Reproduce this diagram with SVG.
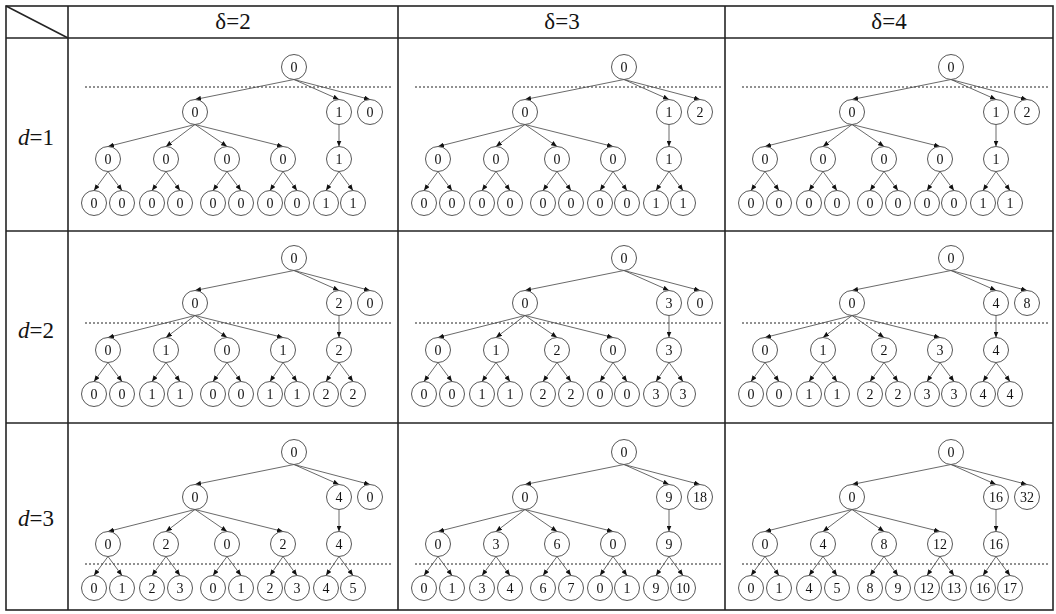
<svg xmlns="http://www.w3.org/2000/svg" width="1056" height="614" viewBox="0 0 1056 614">
<style>
.grid{stroke:#222;stroke-width:1.6;fill:none}
.nd circle{fill:#fff;stroke:#555;stroke-width:1}
.nd text{font-family:"Liberation Serif","Times New Roman",serif;font-size:14px;text-anchor:middle;fill:#111}
.ed line{stroke:#444;stroke-width:0.8;marker-end:url(#ah)}
.dash{stroke:#222;stroke-width:1;stroke-dasharray:2 2}
.hd{font-family:"Liberation Serif","Times New Roman",serif;font-size:23px;text-anchor:middle;fill:#111}
</style>
<defs>
<marker id="ah" markerWidth="6" markerHeight="5" refX="6" refY="2.5" orient="auto" markerUnits="userSpaceOnUse"><path d="M0,0L6,2.5L0,5z" fill="#111"/></marker>
</defs>
<rect width="1056" height="614" fill="#fff"/>
<g id="table" opacity="0.99">
<rect class="grid" x="6" y="6" width="1047" height="604" stroke-width="2"/>
<line class="grid" x1="68" y1="6" x2="68" y2="610"/>
<line class="grid" x1="398" y1="6" x2="398" y2="610"/>
<line class="grid" x1="725" y1="6" x2="725" y2="610"/>
<line class="grid" x1="6" y1="38" x2="1053" y2="38"/>
<line class="grid" x1="6" y1="231" x2="1053" y2="231"/>
<line class="grid" x1="6" y1="423" x2="1053" y2="423"/>
<line class="grid" x1="6" y1="6" x2="68" y2="38" stroke-width="1.3"/>
<text class="hd" x="233" y="29">δ=2</text>
<text class="hd" x="562" y="29">δ=3</text>
<text class="hd" x="889" y="29">δ=4</text>
<text class="hd" x="36" y="145"><tspan font-style="italic">d</tspan>=1</text>
<text class="hd" x="36" y="338"><tspan font-style="italic">d</tspan>=2</text>
<text class="hd" x="36" y="526"><tspan font-style="italic">d</tspan>=3</text>
</g>
<g id="dividers">
<line class="dash" x1="85" y1="87" x2="392" y2="87"/>
<line class="dash" x1="415" y1="87" x2="722" y2="87"/>
<line class="dash" x1="742" y1="87" x2="1049" y2="87"/>
<line class="dash" x1="85" y1="323" x2="392" y2="323"/>
<line class="dash" x1="415" y1="323" x2="722" y2="323"/>
<line class="dash" x1="742" y1="323" x2="1049" y2="323"/>
<line class="dash" x1="85" y1="564" x2="392" y2="564"/>
<line class="dash" x1="415" y1="564" x2="722" y2="564"/>
<line class="dash" x1="742" y1="564" x2="1049" y2="564"/>
</g>
<g id="connectors" class="ed">
<g transform="translate(68,67)">
<line x1="226" y1="12.5" x2="127" y2="32.5"/><line x1="226" y1="12.5" x2="271" y2="32.5"/><line x1="226" y1="12.5" x2="302" y2="32.5"/>
<line x1="127" y1="57.5" x2="40" y2="79.5"/><line x1="127" y1="57.5" x2="98" y2="79.5"/><line x1="127" y1="57.5" x2="159" y2="79.5"/><line x1="127" y1="57.5" x2="215" y2="79.5"/><line x1="271" y1="57.5" x2="271" y2="79.5"/>
<line x1="40" y1="104.5" x2="26" y2="123.5"/><line x1="40" y1="104.5" x2="54" y2="123.5"/><line x1="98" y1="104.5" x2="84" y2="123.5"/><line x1="98" y1="104.5" x2="112" y2="123.5"/><line x1="159" y1="104.5" x2="145" y2="123.5"/><line x1="159" y1="104.5" x2="173" y2="123.5"/><line x1="215" y1="104.5" x2="202" y2="123.5"/><line x1="215" y1="104.5" x2="229" y2="123.5"/><line x1="271" y1="104.5" x2="258" y2="123.5"/><line x1="271" y1="104.5" x2="285" y2="123.5"/>
</g>
<g transform="translate(398,67)">
<line x1="226" y1="12.5" x2="127" y2="32.5"/><line x1="226" y1="12.5" x2="271" y2="32.5"/><line x1="226" y1="12.5" x2="302" y2="32.5"/>
<line x1="127" y1="57.5" x2="40" y2="79.5"/><line x1="127" y1="57.5" x2="98" y2="79.5"/><line x1="127" y1="57.5" x2="159" y2="79.5"/><line x1="127" y1="57.5" x2="215" y2="79.5"/><line x1="271" y1="57.5" x2="271" y2="79.5"/>
<line x1="40" y1="104.5" x2="26" y2="123.5"/><line x1="40" y1="104.5" x2="54" y2="123.5"/><line x1="98" y1="104.5" x2="84" y2="123.5"/><line x1="98" y1="104.5" x2="112" y2="123.5"/><line x1="159" y1="104.5" x2="145" y2="123.5"/><line x1="159" y1="104.5" x2="173" y2="123.5"/><line x1="215" y1="104.5" x2="202" y2="123.5"/><line x1="215" y1="104.5" x2="229" y2="123.5"/><line x1="271" y1="104.5" x2="258" y2="123.5"/><line x1="271" y1="104.5" x2="285" y2="123.5"/>
</g>
<g transform="translate(725,67)">
<line x1="226" y1="12.5" x2="127" y2="32.5"/><line x1="226" y1="12.5" x2="271" y2="32.5"/><line x1="226" y1="12.5" x2="302" y2="32.5"/>
<line x1="127" y1="57.5" x2="40" y2="79.5"/><line x1="127" y1="57.5" x2="98" y2="79.5"/><line x1="127" y1="57.5" x2="159" y2="79.5"/><line x1="127" y1="57.5" x2="215" y2="79.5"/><line x1="271" y1="57.5" x2="271" y2="79.5"/>
<line x1="40" y1="104.5" x2="26" y2="123.5"/><line x1="40" y1="104.5" x2="54" y2="123.5"/><line x1="98" y1="104.5" x2="84" y2="123.5"/><line x1="98" y1="104.5" x2="112" y2="123.5"/><line x1="159" y1="104.5" x2="145" y2="123.5"/><line x1="159" y1="104.5" x2="173" y2="123.5"/><line x1="215" y1="104.5" x2="202" y2="123.5"/><line x1="215" y1="104.5" x2="229" y2="123.5"/><line x1="271" y1="104.5" x2="258" y2="123.5"/><line x1="271" y1="104.5" x2="285" y2="123.5"/>
</g>
<g transform="translate(68,258)">
<line x1="226" y1="12.5" x2="127" y2="32.5"/><line x1="226" y1="12.5" x2="271" y2="32.5"/><line x1="226" y1="12.5" x2="302" y2="32.5"/>
<line x1="127" y1="57.5" x2="40" y2="79.5"/><line x1="127" y1="57.5" x2="98" y2="79.5"/><line x1="127" y1="57.5" x2="159" y2="79.5"/><line x1="127" y1="57.5" x2="215" y2="79.5"/><line x1="271" y1="57.5" x2="271" y2="79.5"/>
<line x1="40" y1="104.5" x2="26" y2="123.5"/><line x1="40" y1="104.5" x2="54" y2="123.5"/><line x1="98" y1="104.5" x2="84" y2="123.5"/><line x1="98" y1="104.5" x2="112" y2="123.5"/><line x1="159" y1="104.5" x2="145" y2="123.5"/><line x1="159" y1="104.5" x2="173" y2="123.5"/><line x1="215" y1="104.5" x2="202" y2="123.5"/><line x1="215" y1="104.5" x2="229" y2="123.5"/><line x1="271" y1="104.5" x2="258" y2="123.5"/><line x1="271" y1="104.5" x2="285" y2="123.5"/>
</g>
<g transform="translate(398,258)">
<line x1="226" y1="12.5" x2="127" y2="32.5"/><line x1="226" y1="12.5" x2="271" y2="32.5"/><line x1="226" y1="12.5" x2="302" y2="32.5"/>
<line x1="127" y1="57.5" x2="40" y2="79.5"/><line x1="127" y1="57.5" x2="98" y2="79.5"/><line x1="127" y1="57.5" x2="159" y2="79.5"/><line x1="127" y1="57.5" x2="215" y2="79.5"/><line x1="271" y1="57.5" x2="271" y2="79.5"/>
<line x1="40" y1="104.5" x2="26" y2="123.5"/><line x1="40" y1="104.5" x2="54" y2="123.5"/><line x1="98" y1="104.5" x2="84" y2="123.5"/><line x1="98" y1="104.5" x2="112" y2="123.5"/><line x1="159" y1="104.5" x2="145" y2="123.5"/><line x1="159" y1="104.5" x2="173" y2="123.5"/><line x1="215" y1="104.5" x2="202" y2="123.5"/><line x1="215" y1="104.5" x2="229" y2="123.5"/><line x1="271" y1="104.5" x2="258" y2="123.5"/><line x1="271" y1="104.5" x2="285" y2="123.5"/>
</g>
<g transform="translate(725,258)">
<line x1="226" y1="12.5" x2="127" y2="32.5"/><line x1="226" y1="12.5" x2="271" y2="32.5"/><line x1="226" y1="12.5" x2="302" y2="32.5"/>
<line x1="127" y1="57.5" x2="40" y2="79.5"/><line x1="127" y1="57.5" x2="98" y2="79.5"/><line x1="127" y1="57.5" x2="159" y2="79.5"/><line x1="127" y1="57.5" x2="215" y2="79.5"/><line x1="271" y1="57.5" x2="271" y2="79.5"/>
<line x1="40" y1="104.5" x2="26" y2="123.5"/><line x1="40" y1="104.5" x2="54" y2="123.5"/><line x1="98" y1="104.5" x2="84" y2="123.5"/><line x1="98" y1="104.5" x2="112" y2="123.5"/><line x1="159" y1="104.5" x2="145" y2="123.5"/><line x1="159" y1="104.5" x2="173" y2="123.5"/><line x1="215" y1="104.5" x2="202" y2="123.5"/><line x1="215" y1="104.5" x2="229" y2="123.5"/><line x1="271" y1="104.5" x2="258" y2="123.5"/><line x1="271" y1="104.5" x2="285" y2="123.5"/>
</g>
<g transform="translate(68,452)">
<line x1="226" y1="12.5" x2="127" y2="32.5"/><line x1="226" y1="12.5" x2="271" y2="32.5"/><line x1="226" y1="12.5" x2="302" y2="32.5"/>
<line x1="127" y1="57.5" x2="40" y2="79.5"/><line x1="127" y1="57.5" x2="98" y2="79.5"/><line x1="127" y1="57.5" x2="159" y2="79.5"/><line x1="127" y1="57.5" x2="215" y2="79.5"/><line x1="271" y1="57.5" x2="271" y2="79.5"/>
<line x1="40" y1="104.5" x2="26" y2="123.5"/><line x1="40" y1="104.5" x2="54" y2="123.5"/><line x1="98" y1="104.5" x2="84" y2="123.5"/><line x1="98" y1="104.5" x2="112" y2="123.5"/><line x1="159" y1="104.5" x2="145" y2="123.5"/><line x1="159" y1="104.5" x2="173" y2="123.5"/><line x1="215" y1="104.5" x2="202" y2="123.5"/><line x1="215" y1="104.5" x2="229" y2="123.5"/><line x1="271" y1="104.5" x2="258" y2="123.5"/><line x1="271" y1="104.5" x2="285" y2="123.5"/>
</g>
<g transform="translate(398,452)">
<line x1="226" y1="12.5" x2="127" y2="32.5"/><line x1="226" y1="12.5" x2="271" y2="32.5"/><line x1="226" y1="12.5" x2="302" y2="32.5"/>
<line x1="127" y1="57.5" x2="40" y2="79.5"/><line x1="127" y1="57.5" x2="98" y2="79.5"/><line x1="127" y1="57.5" x2="159" y2="79.5"/><line x1="127" y1="57.5" x2="215" y2="79.5"/><line x1="271" y1="57.5" x2="271" y2="79.5"/>
<line x1="40" y1="104.5" x2="26" y2="123.5"/><line x1="40" y1="104.5" x2="54" y2="123.5"/><line x1="98" y1="104.5" x2="84" y2="123.5"/><line x1="98" y1="104.5" x2="112" y2="123.5"/><line x1="159" y1="104.5" x2="145" y2="123.5"/><line x1="159" y1="104.5" x2="173" y2="123.5"/><line x1="215" y1="104.5" x2="202" y2="123.5"/><line x1="215" y1="104.5" x2="229" y2="123.5"/><line x1="271" y1="104.5" x2="258" y2="123.5"/><line x1="271" y1="104.5" x2="285" y2="123.5"/>
</g>
<g transform="translate(725,452)">
<line x1="226" y1="12.5" x2="127" y2="32.5"/><line x1="226" y1="12.5" x2="271" y2="32.5"/><line x1="226" y1="12.5" x2="302" y2="32.5"/>
<line x1="127" y1="57.5" x2="40" y2="79.5"/><line x1="127" y1="57.5" x2="98" y2="79.5"/><line x1="127" y1="57.5" x2="159" y2="79.5"/><line x1="127" y1="57.5" x2="215" y2="79.5"/><line x1="271" y1="57.5" x2="271" y2="79.5"/>
<line x1="40" y1="104.5" x2="26" y2="123.5"/><line x1="40" y1="104.5" x2="54" y2="123.5"/><line x1="98" y1="104.5" x2="84" y2="123.5"/><line x1="98" y1="104.5" x2="112" y2="123.5"/><line x1="159" y1="104.5" x2="145" y2="123.5"/><line x1="159" y1="104.5" x2="173" y2="123.5"/><line x1="215" y1="104.5" x2="202" y2="123.5"/><line x1="215" y1="104.5" x2="229" y2="123.5"/><line x1="271" y1="104.5" x2="258" y2="123.5"/><line x1="271" y1="104.5" x2="285" y2="123.5"/>
</g>
</g>
<g id="nodes" class="nd" opacity="0.99">
<g id="c11" transform="translate(68,67)">
<g id="c11-root"><circle cx="226" cy="0" r="12.5"/><text x="226" y="5">0</text></g>
<g id="c11-a1"><circle cx="127" cy="45" r="12.5"/><text x="127" y="50">0</text></g>
<g id="c11-a2"><circle cx="271" cy="45" r="12.5"/><text x="271" y="50">1</text></g>
<g id="c11-a3"><circle cx="302" cy="45" r="12.5"/><text x="302" y="50">0</text></g>
<g id="c11-b1"><circle cx="40" cy="92" r="12.5"/><text x="40" y="97">0</text></g>
<g id="c11-b2"><circle cx="98" cy="92" r="12.5"/><text x="98" y="97">0</text></g>
<g id="c11-b3"><circle cx="159" cy="92" r="12.5"/><text x="159" y="97">0</text></g>
<g id="c11-b4"><circle cx="215" cy="92" r="12.5"/><text x="215" y="97">0</text></g>
<g id="c11-b5"><circle cx="271" cy="92" r="12.5"/><text x="271" y="97">1</text></g>
<g id="c11-l1"><circle cx="26" cy="136" r="12.5"/><text x="26" y="141">0</text></g>
<g id="c11-l2"><circle cx="54" cy="136" r="12.5"/><text x="54" y="141">0</text></g>
<g id="c11-l3"><circle cx="84" cy="136" r="12.5"/><text x="84" y="141">0</text></g>
<g id="c11-l4"><circle cx="112" cy="136" r="12.5"/><text x="112" y="141">0</text></g>
<g id="c11-l5"><circle cx="145" cy="136" r="12.5"/><text x="145" y="141">0</text></g>
<g id="c11-l6"><circle cx="173" cy="136" r="12.5"/><text x="173" y="141">0</text></g>
<g id="c11-l7"><circle cx="202" cy="136" r="12.5"/><text x="202" y="141">0</text></g>
<g id="c11-l8"><circle cx="229" cy="136" r="12.5"/><text x="229" y="141">0</text></g>
<g id="c11-l9"><circle cx="258" cy="136" r="12.5"/><text x="258" y="141">1</text></g>
<g id="c11-l10"><circle cx="285" cy="136" r="12.5"/><text x="285" y="141">1</text></g>
</g>
<g id="c12" transform="translate(398,67)">
<g id="c12-root"><circle cx="226" cy="0" r="12.5"/><text x="226" y="5">0</text></g>
<g id="c12-a1"><circle cx="127" cy="45" r="12.5"/><text x="127" y="50">0</text></g>
<g id="c12-a2"><circle cx="271" cy="45" r="12.5"/><text x="271" y="50">1</text></g>
<g id="c12-a3"><circle cx="302" cy="45" r="12.5"/><text x="302" y="50">2</text></g>
<g id="c12-b1"><circle cx="40" cy="92" r="12.5"/><text x="40" y="97">0</text></g>
<g id="c12-b2"><circle cx="98" cy="92" r="12.5"/><text x="98" y="97">0</text></g>
<g id="c12-b3"><circle cx="159" cy="92" r="12.5"/><text x="159" y="97">0</text></g>
<g id="c12-b4"><circle cx="215" cy="92" r="12.5"/><text x="215" y="97">0</text></g>
<g id="c12-b5"><circle cx="271" cy="92" r="12.5"/><text x="271" y="97">1</text></g>
<g id="c12-l1"><circle cx="26" cy="136" r="12.5"/><text x="26" y="141">0</text></g>
<g id="c12-l2"><circle cx="54" cy="136" r="12.5"/><text x="54" y="141">0</text></g>
<g id="c12-l3"><circle cx="84" cy="136" r="12.5"/><text x="84" y="141">0</text></g>
<g id="c12-l4"><circle cx="112" cy="136" r="12.5"/><text x="112" y="141">0</text></g>
<g id="c12-l5"><circle cx="145" cy="136" r="12.5"/><text x="145" y="141">0</text></g>
<g id="c12-l6"><circle cx="173" cy="136" r="12.5"/><text x="173" y="141">0</text></g>
<g id="c12-l7"><circle cx="202" cy="136" r="12.5"/><text x="202" y="141">0</text></g>
<g id="c12-l8"><circle cx="229" cy="136" r="12.5"/><text x="229" y="141">0</text></g>
<g id="c12-l9"><circle cx="258" cy="136" r="12.5"/><text x="258" y="141">1</text></g>
<g id="c12-l10"><circle cx="285" cy="136" r="12.5"/><text x="285" y="141">1</text></g>
</g>
<g id="c13" transform="translate(725,67)">
<g id="c13-root"><circle cx="226" cy="0" r="12.5"/><text x="226" y="5">0</text></g>
<g id="c13-a1"><circle cx="127" cy="45" r="12.5"/><text x="127" y="50">0</text></g>
<g id="c13-a2"><circle cx="271" cy="45" r="12.5"/><text x="271" y="50">1</text></g>
<g id="c13-a3"><circle cx="302" cy="45" r="12.5"/><text x="302" y="50">2</text></g>
<g id="c13-b1"><circle cx="40" cy="92" r="12.5"/><text x="40" y="97">0</text></g>
<g id="c13-b2"><circle cx="98" cy="92" r="12.5"/><text x="98" y="97">0</text></g>
<g id="c13-b3"><circle cx="159" cy="92" r="12.5"/><text x="159" y="97">0</text></g>
<g id="c13-b4"><circle cx="215" cy="92" r="12.5"/><text x="215" y="97">0</text></g>
<g id="c13-b5"><circle cx="271" cy="92" r="12.5"/><text x="271" y="97">1</text></g>
<g id="c13-l1"><circle cx="26" cy="136" r="12.5"/><text x="26" y="141">0</text></g>
<g id="c13-l2"><circle cx="54" cy="136" r="12.5"/><text x="54" y="141">0</text></g>
<g id="c13-l3"><circle cx="84" cy="136" r="12.5"/><text x="84" y="141">0</text></g>
<g id="c13-l4"><circle cx="112" cy="136" r="12.5"/><text x="112" y="141">0</text></g>
<g id="c13-l5"><circle cx="145" cy="136" r="12.5"/><text x="145" y="141">0</text></g>
<g id="c13-l6"><circle cx="173" cy="136" r="12.5"/><text x="173" y="141">0</text></g>
<g id="c13-l7"><circle cx="202" cy="136" r="12.5"/><text x="202" y="141">0</text></g>
<g id="c13-l8"><circle cx="229" cy="136" r="12.5"/><text x="229" y="141">0</text></g>
<g id="c13-l9"><circle cx="258" cy="136" r="12.5"/><text x="258" y="141">1</text></g>
<g id="c13-l10"><circle cx="285" cy="136" r="12.5"/><text x="285" y="141">1</text></g>
</g>
<g id="c21" transform="translate(68,258)">
<g id="c21-root"><circle cx="226" cy="0" r="12.5"/><text x="226" y="5">0</text></g>
<g id="c21-a1"><circle cx="127" cy="45" r="12.5"/><text x="127" y="50">0</text></g>
<g id="c21-a2"><circle cx="271" cy="45" r="12.5"/><text x="271" y="50">2</text></g>
<g id="c21-a3"><circle cx="302" cy="45" r="12.5"/><text x="302" y="50">0</text></g>
<g id="c21-b1"><circle cx="40" cy="92" r="12.5"/><text x="40" y="97">0</text></g>
<g id="c21-b2"><circle cx="98" cy="92" r="12.5"/><text x="98" y="97">1</text></g>
<g id="c21-b3"><circle cx="159" cy="92" r="12.5"/><text x="159" y="97">0</text></g>
<g id="c21-b4"><circle cx="215" cy="92" r="12.5"/><text x="215" y="97">1</text></g>
<g id="c21-b5"><circle cx="271" cy="92" r="12.5"/><text x="271" y="97">2</text></g>
<g id="c21-l1"><circle cx="26" cy="136" r="12.5"/><text x="26" y="141">0</text></g>
<g id="c21-l2"><circle cx="54" cy="136" r="12.5"/><text x="54" y="141">0</text></g>
<g id="c21-l3"><circle cx="84" cy="136" r="12.5"/><text x="84" y="141">1</text></g>
<g id="c21-l4"><circle cx="112" cy="136" r="12.5"/><text x="112" y="141">1</text></g>
<g id="c21-l5"><circle cx="145" cy="136" r="12.5"/><text x="145" y="141">0</text></g>
<g id="c21-l6"><circle cx="173" cy="136" r="12.5"/><text x="173" y="141">0</text></g>
<g id="c21-l7"><circle cx="202" cy="136" r="12.5"/><text x="202" y="141">1</text></g>
<g id="c21-l8"><circle cx="229" cy="136" r="12.5"/><text x="229" y="141">1</text></g>
<g id="c21-l9"><circle cx="258" cy="136" r="12.5"/><text x="258" y="141">2</text></g>
<g id="c21-l10"><circle cx="285" cy="136" r="12.5"/><text x="285" y="141">2</text></g>
</g>
<g id="c22" transform="translate(398,258)">
<g id="c22-root"><circle cx="226" cy="0" r="12.5"/><text x="226" y="5">0</text></g>
<g id="c22-a1"><circle cx="127" cy="45" r="12.5"/><text x="127" y="50">0</text></g>
<g id="c22-a2"><circle cx="271" cy="45" r="12.5"/><text x="271" y="50">3</text></g>
<g id="c22-a3"><circle cx="302" cy="45" r="12.5"/><text x="302" y="50">0</text></g>
<g id="c22-b1"><circle cx="40" cy="92" r="12.5"/><text x="40" y="97">0</text></g>
<g id="c22-b2"><circle cx="98" cy="92" r="12.5"/><text x="98" y="97">1</text></g>
<g id="c22-b3"><circle cx="159" cy="92" r="12.5"/><text x="159" y="97">2</text></g>
<g id="c22-b4"><circle cx="215" cy="92" r="12.5"/><text x="215" y="97">0</text></g>
<g id="c22-b5"><circle cx="271" cy="92" r="12.5"/><text x="271" y="97">3</text></g>
<g id="c22-l1"><circle cx="26" cy="136" r="12.5"/><text x="26" y="141">0</text></g>
<g id="c22-l2"><circle cx="54" cy="136" r="12.5"/><text x="54" y="141">0</text></g>
<g id="c22-l3"><circle cx="84" cy="136" r="12.5"/><text x="84" y="141">1</text></g>
<g id="c22-l4"><circle cx="112" cy="136" r="12.5"/><text x="112" y="141">1</text></g>
<g id="c22-l5"><circle cx="145" cy="136" r="12.5"/><text x="145" y="141">2</text></g>
<g id="c22-l6"><circle cx="173" cy="136" r="12.5"/><text x="173" y="141">2</text></g>
<g id="c22-l7"><circle cx="202" cy="136" r="12.5"/><text x="202" y="141">0</text></g>
<g id="c22-l8"><circle cx="229" cy="136" r="12.5"/><text x="229" y="141">0</text></g>
<g id="c22-l9"><circle cx="258" cy="136" r="12.5"/><text x="258" y="141">3</text></g>
<g id="c22-l10"><circle cx="285" cy="136" r="12.5"/><text x="285" y="141">3</text></g>
</g>
<g id="c23" transform="translate(725,258)">
<g id="c23-root"><circle cx="226" cy="0" r="12.5"/><text x="226" y="5">0</text></g>
<g id="c23-a1"><circle cx="127" cy="45" r="12.5"/><text x="127" y="50">0</text></g>
<g id="c23-a2"><circle cx="271" cy="45" r="12.5"/><text x="271" y="50">4</text></g>
<g id="c23-a3"><circle cx="302" cy="45" r="12.5"/><text x="302" y="50">8</text></g>
<g id="c23-b1"><circle cx="40" cy="92" r="12.5"/><text x="40" y="97">0</text></g>
<g id="c23-b2"><circle cx="98" cy="92" r="12.5"/><text x="98" y="97">1</text></g>
<g id="c23-b3"><circle cx="159" cy="92" r="12.5"/><text x="159" y="97">2</text></g>
<g id="c23-b4"><circle cx="215" cy="92" r="12.5"/><text x="215" y="97">3</text></g>
<g id="c23-b5"><circle cx="271" cy="92" r="12.5"/><text x="271" y="97">4</text></g>
<g id="c23-l1"><circle cx="26" cy="136" r="12.5"/><text x="26" y="141">0</text></g>
<g id="c23-l2"><circle cx="54" cy="136" r="12.5"/><text x="54" y="141">0</text></g>
<g id="c23-l3"><circle cx="84" cy="136" r="12.5"/><text x="84" y="141">1</text></g>
<g id="c23-l4"><circle cx="112" cy="136" r="12.5"/><text x="112" y="141">1</text></g>
<g id="c23-l5"><circle cx="145" cy="136" r="12.5"/><text x="145" y="141">2</text></g>
<g id="c23-l6"><circle cx="173" cy="136" r="12.5"/><text x="173" y="141">2</text></g>
<g id="c23-l7"><circle cx="202" cy="136" r="12.5"/><text x="202" y="141">3</text></g>
<g id="c23-l8"><circle cx="229" cy="136" r="12.5"/><text x="229" y="141">3</text></g>
<g id="c23-l9"><circle cx="258" cy="136" r="12.5"/><text x="258" y="141">4</text></g>
<g id="c23-l10"><circle cx="285" cy="136" r="12.5"/><text x="285" y="141">4</text></g>
</g>
<g id="c31" transform="translate(68,452)">
<g id="c31-root"><circle cx="226" cy="0" r="12.5"/><text x="226" y="5">0</text></g>
<g id="c31-a1"><circle cx="127" cy="45" r="12.5"/><text x="127" y="50">0</text></g>
<g id="c31-a2"><circle cx="271" cy="45" r="12.5"/><text x="271" y="50">4</text></g>
<g id="c31-a3"><circle cx="302" cy="45" r="12.5"/><text x="302" y="50">0</text></g>
<g id="c31-b1"><circle cx="40" cy="92" r="12.5"/><text x="40" y="97">0</text></g>
<g id="c31-b2"><circle cx="98" cy="92" r="12.5"/><text x="98" y="97">2</text></g>
<g id="c31-b3"><circle cx="159" cy="92" r="12.5"/><text x="159" y="97">0</text></g>
<g id="c31-b4"><circle cx="215" cy="92" r="12.5"/><text x="215" y="97">2</text></g>
<g id="c31-b5"><circle cx="271" cy="92" r="12.5"/><text x="271" y="97">4</text></g>
<g id="c31-l1"><circle cx="26" cy="136" r="12.5"/><text x="26" y="141">0</text></g>
<g id="c31-l2"><circle cx="54" cy="136" r="12.5"/><text x="54" y="141">1</text></g>
<g id="c31-l3"><circle cx="84" cy="136" r="12.5"/><text x="84" y="141">2</text></g>
<g id="c31-l4"><circle cx="112" cy="136" r="12.5"/><text x="112" y="141">3</text></g>
<g id="c31-l5"><circle cx="145" cy="136" r="12.5"/><text x="145" y="141">0</text></g>
<g id="c31-l6"><circle cx="173" cy="136" r="12.5"/><text x="173" y="141">1</text></g>
<g id="c31-l7"><circle cx="202" cy="136" r="12.5"/><text x="202" y="141">2</text></g>
<g id="c31-l8"><circle cx="229" cy="136" r="12.5"/><text x="229" y="141">3</text></g>
<g id="c31-l9"><circle cx="258" cy="136" r="12.5"/><text x="258" y="141">4</text></g>
<g id="c31-l10"><circle cx="285" cy="136" r="12.5"/><text x="285" y="141">5</text></g>
</g>
<g id="c32" transform="translate(398,452)">
<g id="c32-root"><circle cx="226" cy="0" r="12.5"/><text x="226" y="5">0</text></g>
<g id="c32-a1"><circle cx="127" cy="45" r="12.5"/><text x="127" y="50">0</text></g>
<g id="c32-a2"><circle cx="271" cy="45" r="12.5"/><text x="271" y="50">9</text></g>
<g id="c32-a3"><circle cx="302" cy="45" r="12.5"/><text x="302" y="50">18</text></g>
<g id="c32-b1"><circle cx="40" cy="92" r="12.5"/><text x="40" y="97">0</text></g>
<g id="c32-b2"><circle cx="98" cy="92" r="12.5"/><text x="98" y="97">3</text></g>
<g id="c32-b3"><circle cx="159" cy="92" r="12.5"/><text x="159" y="97">6</text></g>
<g id="c32-b4"><circle cx="215" cy="92" r="12.5"/><text x="215" y="97">0</text></g>
<g id="c32-b5"><circle cx="271" cy="92" r="12.5"/><text x="271" y="97">9</text></g>
<g id="c32-l1"><circle cx="26" cy="136" r="12.5"/><text x="26" y="141">0</text></g>
<g id="c32-l2"><circle cx="54" cy="136" r="12.5"/><text x="54" y="141">1</text></g>
<g id="c32-l3"><circle cx="84" cy="136" r="12.5"/><text x="84" y="141">3</text></g>
<g id="c32-l4"><circle cx="112" cy="136" r="12.5"/><text x="112" y="141">4</text></g>
<g id="c32-l5"><circle cx="145" cy="136" r="12.5"/><text x="145" y="141">6</text></g>
<g id="c32-l6"><circle cx="173" cy="136" r="12.5"/><text x="173" y="141">7</text></g>
<g id="c32-l7"><circle cx="202" cy="136" r="12.5"/><text x="202" y="141">0</text></g>
<g id="c32-l8"><circle cx="229" cy="136" r="12.5"/><text x="229" y="141">1</text></g>
<g id="c32-l9"><circle cx="258" cy="136" r="12.5"/><text x="258" y="141">9</text></g>
<g id="c32-l10"><circle cx="285" cy="136" r="12.5"/><text x="285" y="141">10</text></g>
</g>
<g id="c33" transform="translate(725,452)">
<g id="c33-root"><circle cx="226" cy="0" r="12.5"/><text x="226" y="5">0</text></g>
<g id="c33-a1"><circle cx="127" cy="45" r="12.5"/><text x="127" y="50">0</text></g>
<g id="c33-a2"><circle cx="271" cy="45" r="12.5"/><text x="271" y="50">16</text></g>
<g id="c33-a3"><circle cx="302" cy="45" r="12.5"/><text x="302" y="50">32</text></g>
<g id="c33-b1"><circle cx="40" cy="92" r="12.5"/><text x="40" y="97">0</text></g>
<g id="c33-b2"><circle cx="98" cy="92" r="12.5"/><text x="98" y="97">4</text></g>
<g id="c33-b3"><circle cx="159" cy="92" r="12.5"/><text x="159" y="97">8</text></g>
<g id="c33-b4"><circle cx="215" cy="92" r="12.5"/><text x="215" y="97">12</text></g>
<g id="c33-b5"><circle cx="271" cy="92" r="12.5"/><text x="271" y="97">16</text></g>
<g id="c33-l1"><circle cx="26" cy="136" r="12.5"/><text x="26" y="141">0</text></g>
<g id="c33-l2"><circle cx="54" cy="136" r="12.5"/><text x="54" y="141">1</text></g>
<g id="c33-l3"><circle cx="84" cy="136" r="12.5"/><text x="84" y="141">4</text></g>
<g id="c33-l4"><circle cx="112" cy="136" r="12.5"/><text x="112" y="141">5</text></g>
<g id="c33-l5"><circle cx="145" cy="136" r="12.5"/><text x="145" y="141">8</text></g>
<g id="c33-l6"><circle cx="173" cy="136" r="12.5"/><text x="173" y="141">9</text></g>
<g id="c33-l7"><circle cx="202" cy="136" r="12.5"/><text x="202" y="141">12</text></g>
<g id="c33-l8"><circle cx="229" cy="136" r="12.5"/><text x="229" y="141">13</text></g>
<g id="c33-l9"><circle cx="258" cy="136" r="12.5"/><text x="258" y="141">16</text></g>
<g id="c33-l10"><circle cx="285" cy="136" r="12.5"/><text x="285" y="141">17</text></g>
</g>
</g>
</svg>
